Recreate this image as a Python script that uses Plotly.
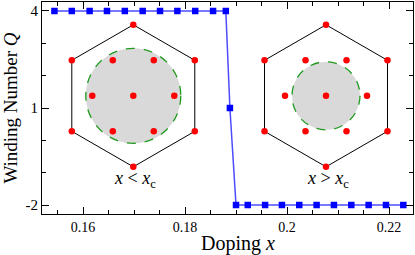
import numpy as np
import plotly.graph_objects as go

# ---- data ----
doping = [0.1544, 0.1578, 0.1613, 0.1647, 0.1682, 0.1717, 0.1751, 0.1785, 0.1820, 0.1855, 0.1880,
          0.1888,
          0.1900, 0.1923, 0.1957, 0.1990, 0.2024, 0.2058, 0.2092, 0.2126, 0.2160, 0.2194, 0.2228]
winding = [4, 4, 4, 4, 4, 4, 4, 4, 4, 4, 4,
           1,
           -2, -2, -2, -2, -2, -2, -2, -2, -2, -2, -2]
x_tickvals = [0.16, 0.18, 0.20, 0.22]
x_ticktext = ["0.16", "0.18", "0.2", "0.22"]
y_tickvals = [-2, 1, 4]
y_ticktext = ["-2", "1", "4"]

# ---- inset schematics (Brillouin zone hexagon, in inset units) ----
inset_centers = [(91.3, 118.2), (284.0, 118.2)]
hex_R = 71.0
fermi_radius = [47.5, 34.0]
inset_labels = ["<i>x</i> < <i>x</i><sub>c</sub>", "<i>x</i> > <i>x</i><sub>c</sub>"]

fig = go.Figure()

fig.add_trace(go.Scatter(
    x=doping, y=winding, mode="lines+markers",
    line=dict(color="#4d4dff", width=1.5),
    marker=dict(symbol="square", size=6.5, color="#0000ff"),
    xaxis="x", yaxis="y", showlegend=False, cliponaxis=False))

shapes = []
annotations = []
for (cx, cy), rf, lab in zip(inset_centers, fermi_radius, inset_labels):
    shapes.append(dict(type="circle", xref="x2", yref="y2",
                       x0=cx - rf, x1=cx + rf, y0=cy - rf, y1=cy + rf,
                       fillcolor="#d9d9d9", line=dict(color="#1f9a1f", width=1.3, dash="dash"),
                       layer="below"))
    ang = np.deg2rad(90 + 60 * np.arange(7))
    hx = cx + hex_R * np.cos(ang)
    hy = cy + hex_R * np.sin(ang)
    fig.add_trace(go.Scatter(x=hx, y=hy, mode="lines", line=dict(color="black", width=1),
                             xaxis="x2", yaxis="y2", showlegend=False, hoverinfo="skip"))
    r_in = hex_R / np.sqrt(3)
    a2 = np.deg2rad(60 * np.arange(6))
    dx = np.concatenate([hx[:6], cx + r_in * np.cos(a2), [cx]])
    dy = np.concatenate([hy[:6], cy + r_in * np.sin(a2), [cy]])
    fig.add_trace(go.Scatter(x=dx, y=dy, mode="markers",
                             marker=dict(color="#ff0000", size=6.5),
                             xaxis="x2", yaxis="y2", showlegend=False, hoverinfo="skip"))
    annotations.append(dict(xref="x2", yref="y2", x=cx + 2, y=cy - hex_R - 13, text=lab,
                            showarrow=False, font=dict(family="Liberation Serif", size=18, color="black")))

# x-axis title (placed like the reference, slightly right of centre)
annotations.append(dict(xref="paper", yref="paper", x=0.528, y=-0.1415, text="Doping <i>x</i>",
                        showarrow=False, xanchor="center", yanchor="middle",
                        font=dict(family="Liberation Serif", size=20, color="black")))

axis_common = dict(showline=True, linecolor="black", linewidth=1.2, mirror="allticks",
                   ticks="inside", ticklen=7, tickwidth=1, tickcolor="black",
                   showgrid=False, zeroline=False)

fig.update_layout(
    width=415, height=255,
    margin=dict(l=42, r=2, t=2, b=41),
    paper_bgcolor="white", plot_bgcolor="white",
    xaxis=dict(range=[0.15196, 0.2247], tickvals=x_tickvals, ticktext=x_ticktext,
               minor=dict(dtick=0.005, tick0=0.16, ticklen=4, ticks="inside", tickcolor="black"),
               tickfont=dict(family="Liberation Serif", size=14, color="black"),
               **axis_common),
    yaxis=dict(range=[-2.278, 4.278], tickvals=y_tickvals, ticktext=y_ticktext,
               minor=dict(dtick=1, tick0=-2, ticklen=4, ticks="inside", tickcolor="black"),
               tickfont=dict(family="Liberation Serif", size=15, color="black"),
               title=dict(text="Winding Number <i>Q</i>", standoff=5,
                          font=dict(family="Liberation Serif", size=19, color="black")),
               **axis_common),
    xaxis2=dict(range=[0, 371], overlaying="x", visible=False, domain=[0, 1]),
    yaxis2=dict(range=[0, 212], overlaying="y", visible=False, domain=[0, 1]),
    shapes=shapes, annotations=annotations,
)

fig.write_html("out.html", config={"displayModeBar": False},
               post_script="document.body.style.margin='0px';")
